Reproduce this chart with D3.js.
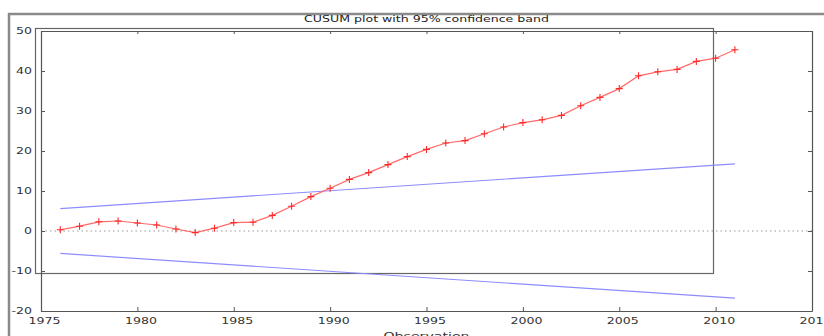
<!DOCTYPE html>
<html>
<head>
<meta charset="utf-8">
<script src="https://cdn.jsdelivr.net/npm/d3@7"></script>
<style>
  html, body { margin: 0; padding: 0; background: #fff; }
  svg { display: block; font-family: "DejaVu Sans", sans-serif; }
</style>
</head>
<body>
<div id="chart"></div>
<script>
// ========== DATA ==========
const years = [1976, 1977, 1978, 1979, 1980, 1981, 1982, 1983, 1984, 1985, 1986, 1987,
  1988, 1989, 1990, 1991, 1992, 1993, 1994, 1995, 1996, 1997, 1998, 1999,
  2000, 2001, 2002, 2003, 2004, 2005, 2006, 2007, 2008, 2009, 2010, 2011];
const cusum = [0.3, 1.2, 2.3, 2.5, 2.0, 1.5, 0.5, -0.4, 0.7, 2.1, 2.2, 3.9,
  6.2, 8.6, 10.7, 12.9, 14.6, 16.6, 18.6, 20.4, 22.0, 22.6, 24.3, 26.0,
  27.1, 27.8, 28.9, 31.3, 33.4, 35.6, 38.8, 39.8, 40.4, 42.4, 43.2, 45.3];
const bandYears = [1976, 2011];
const bandUpper = [5.6, 16.8];
const bandLower = [-5.6, -16.8];
const xTicks = [1975, 1980, 1985, 1990, 1995, 2000, 2005, 2010, 2015];
const yTicks = [-20, -10, 0, 10, 20, 30, 40, 50];
const title = 'CUSUM plot with 95% confidence band';
const xLabel = 'Observation';

// ========== CHART ==========
function drawCusum(containerId) {
  const W = 824, H = 336;
  const left = 41, right = 812, top = 31, bottom = 311;
  const stretch = 1.57;

  const svg = d3.select(`#${containerId}`).append('svg')
    .attr('width', W).attr('height', H);

  const x = d3.scaleLinear().domain([1975, 2015]).range([left, right]);
  const y = d3.scaleLinear().domain([-20, 50]).range([bottom, top]);

  const widen = sel => sel.each(function () {
    const w = this.getComputedTextLength();
    d3.select(this).attr('textLength', w * stretch).attr('lengthAdjust', 'spacingAndGlyphs');
  });

  // outer figure frame (partly visible)
  svg.append('path').attr('d', `M9,${H}V14H${W}`)
    .attr('fill', 'none').attr('stroke', '#8a8a8a').attr('stroke-width', 2.5);

  // title
  svg.append('text').attr('x', (left + right) / 2).attr('y', 22)
    .attr('text-anchor', 'middle').style('font-size', '8px').style('fill', '#222')
    .text(title).call(widen);

  // stray inner box
  svg.append('rect').attr('x', 35.5).attr('y', 28.5).attr('width', 678).attr('height', 245)
    .attr('fill', 'none').attr('stroke', '#666').attr('stroke-width', 1.2);

  // zero line
  svg.append('line').attr('x1', left).attr('x2', right).attr('y1', y(0)).attr('y2', y(0))
    .attr('stroke', '#999').attr('stroke-dasharray', '1.5,3');

  // confidence band
  const line = d3.line().x(d => x(d[0])).y(d => y(d[1]));
  [bandUpper, bandLower].forEach(b => {
    svg.append('path').datum(bandYears.map((yr, i) => [yr, b[i]]))
      .attr('fill', 'none').attr('stroke', '#8c8cff').attr('stroke-width', 1.2).attr('d', line);
  });

  // CUSUM line
  const pts = years.map((yr, i) => [yr, cusum[i]]);
  svg.append('path').datum(pts)
    .attr('fill', 'none').attr('stroke', '#ff6a6a').attr('stroke-width', 1.2).attr('d', line);
  svg.selectAll('.mk').data(pts).enter().append('path').attr('class', 'mk')
    .attr('transform', d => `translate(${x(d[0])},${y(d[1])})`)
    .attr('d', 'M-3.5,0H3.5M0,-3.5V3.5')
    .attr('stroke', '#ff2a2a').attr('stroke-width', 1.1);

  // axes (ticks inward on all sides)
  const styleAxis = g => {
    g.selectAll('.domain').attr('stroke', '#555').attr('stroke-width', 1.2);
    g.selectAll('.tick line').attr('stroke', '#555');
    g.selectAll('text').style('font-size', '8px').style('fill', '#333')
      .style('font-family', '"DejaVu Sans", sans-serif').call(widen);
  };
  svg.append('g').attr('transform', `translate(0,${bottom})`)
    .call(d3.axisBottom(x).tickValues(xTicks).tickFormat(d => String(d)).tickSizeInner(-4).tickSizeOuter(0).tickPadding(7))
    .call(styleAxis)
    .selectAll('text').attr('dx', 3);
  svg.append('g').attr('transform', `translate(${left},0)`)
    .call(d3.axisLeft(y).tickValues(yTicks).tickFormat(d => String(d)).tickSizeInner(-4).tickSizeOuter(0).tickPadding(9))
    .call(styleAxis);
  svg.append('g').attr('transform', `translate(0,${top})`)
    .call(d3.axisTop(x).tickValues(xTicks).tickFormat('').tickSizeInner(-3).tickSizeOuter(0))
    .call(styleAxis);
  svg.append('g').attr('transform', `translate(${right},0)`)
    .call(d3.axisRight(y).tickValues(yTicks).tickFormat('').tickSizeInner(-4).tickSizeOuter(0))
    .call(styleAxis);

  // x label (cut off by the bottom edge, as in the source figure)
  svg.append('text').attr('x', (left + right) / 2).attr('y', 339)
    .attr('text-anchor', 'middle').style('font-size', '9px').style('fill', '#333')
    .text(xLabel).call(widen);
}

drawCusum('chart');
</script>
</body>
</html>
